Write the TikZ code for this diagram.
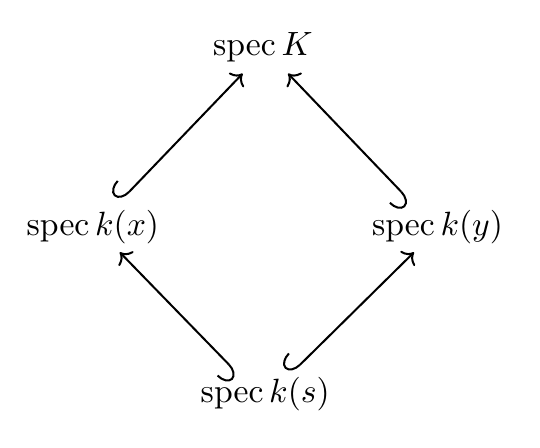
\documentclass[tikz,border=0pt]{standalone}
\usepackage{amsmath}
\usepackage{amssymb}
\usetikzlibrary{arrows.meta}

\begin{document}
\begin{tikzpicture}[scale=1]
\useasboundingbox (0,0) rectangle (5.64,4.67);
\tikzset{incl/.style={{Hooks[right,length=4pt,width=10pt]}-{To}, semithick}}

% Schemes
\node (K) at (2.745,4.18) {$\operatorname{spec} K$};
\node (x) at (0.97,2.30) {$\operatorname{spec} k(x)$};
\node (y) at (4.57,2.30) {$\operatorname{spec} k(y)$};
\node (s) at (2.77,0.55) {$\operatorname{spec} k(s)$};

% Inclusions
\draw[incl] ([xshift=8pt,yshift=-1pt]x.north) -- ([xshift=-6pt]K.south);
\draw[incl] ([xshift=-8pt,yshift=-1pt]y.north) -- ([xshift=7.5pt]K.south);
\draw[incl] ([xshift=-8pt,yshift=-2.5pt]s.north) -- ([xshift=8pt,yshift=1pt]x.south);
\draw[incl] ([xshift=7.5pt,yshift=-2.5pt]s.north) -- ([xshift=-7pt,yshift=1pt]y.south);
\end{tikzpicture}
\end{document}
